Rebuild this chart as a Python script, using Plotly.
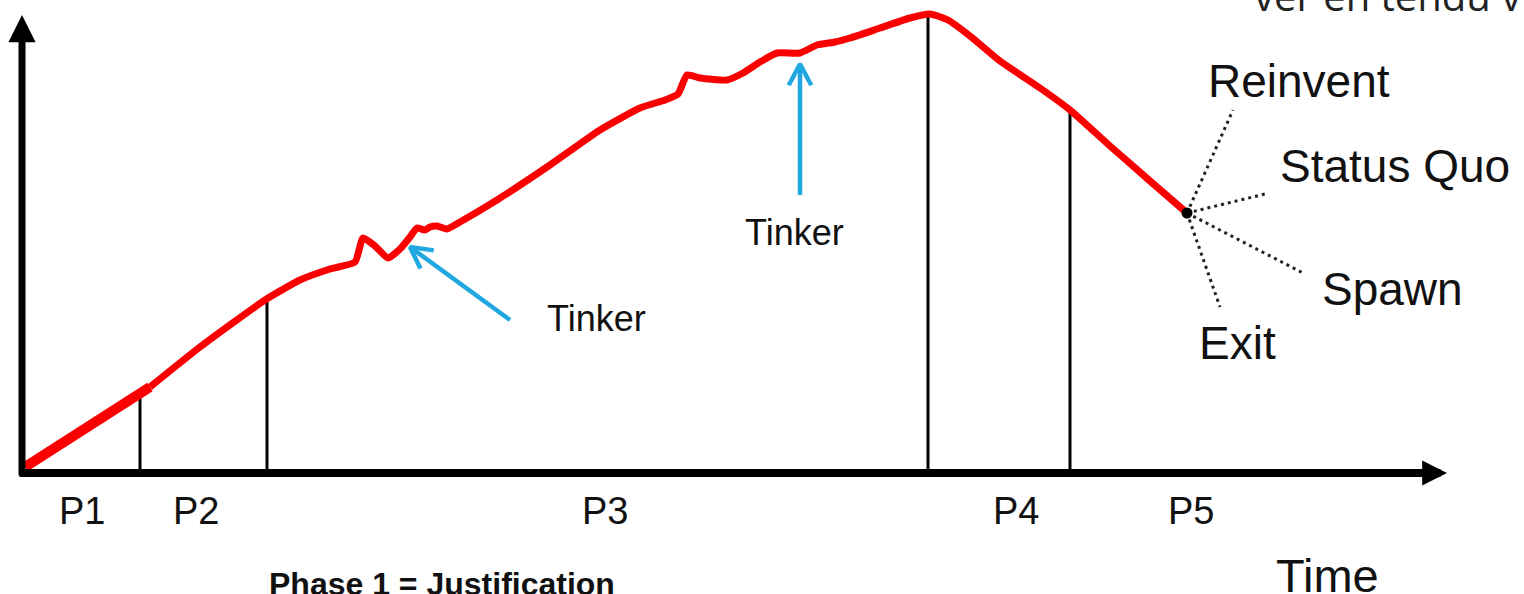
import math
import plotly.graph_objects as go

# ---- data (time units, performance units) ----
time = [3, 128, 178, 243, 278, 308, 333, 341, 353, 366, 378, 388, 395, 403, 408, 415, 425, 438,
        475, 528, 578, 618, 643, 656, 665, 678, 705, 721, 738, 755, 778, 795, 813, 828, 858,
        888, 908, 926, 948, 978, 1018, 1048, 1088, 1128, 1165]
value = [6, 86, 126, 173, 193, 204, 211, 235, 227, 215, 224, 236, 245, 243, 246, 247, 244, 251,
         273, 308, 343, 365, 373, 379, 398, 395, 393, 400, 411, 420, 420, 428, 431, 435, 445,
         455, 459, 453, 437, 412, 385, 363, 327, 292, 260]
thick_n = 2  # first segment drawn heavier

phase_times = [118, 245, 906, 1048]
phase_heights = [80, 173, 456, 363]
phase_labels = ["P1", "P2", "P3", "P4", "P5"]
phase_label_x = [60, 174, 583, 994, 1169]

tinker_tips = [(388, 226), (778, 409)]
tinker_tails = [(488, 153), (778, 278)]
tinker_label_pos = [(574, 155), (772, 241)]

outcome_labels = ["Reinvent", "Status Quo", "Spawn", "Exit"]
outcome_label_pos = [(1277, 392), (1373, 307), (1370, 184), (1215, 130)]
outcome_branch_end = [(1211, 363), (1243, 279), (1281, 200), (1198, 166)]

RED = "rgb(250,0,0)"
BLUE = "#22a8e0"
FONT = "Liberation Sans, Arial, sans-serif"

fig = go.Figure()

# branch dotted lines
for (bx, by) in outcome_branch_end:
    fig.add_trace(go.Scatter(x=[time[-1], bx], y=[value[-1], by], mode="lines",
                             line=dict(color="#222", width=3, dash="3px,4px"),
                             hoverinfo="skip", showlegend=False))

# phase boundary lines
for t, h in zip(phase_times, phase_heights):
    fig.add_trace(go.Scatter(x=[t, t], y=[0, h], mode="lines",
                             line=dict(color="black", width=3),
                             hoverinfo="skip", showlegend=False))

# curve
fig.add_trace(go.Scatter(x=time[thick_n - 1:], y=value[thick_n - 1:], mode="lines",
                         line=dict(color=RED, width=7, shape="spline", smoothing=0.5),
                         hoverinfo="skip", showlegend=False))
fig.add_trace(go.Scatter(x=time[:thick_n], y=value[:thick_n], mode="lines",
                         line=dict(color=RED, width=10),
                         hoverinfo="skip", showlegend=False))
# end point
fig.add_trace(go.Scatter(x=[time[-1]], y=[value[-1]], mode="markers",
                         marker=dict(color="black", size=11),
                         hoverinfo="skip", showlegend=False))

# tinker arrows: shaft + chevron head (derived from tip/tail)
ARM = 24
ANG = math.radians(28)
for (tx, ty), (sx, sy) in zip(tinker_tips, tinker_tails):
    dx, dy = sx - tx, sy - ty
    L = math.hypot(dx, dy)
    ux, uy = dx / L, dy / L
    def rot(a):
        return (ux * math.cos(a) - uy * math.sin(a), ux * math.sin(a) + uy * math.cos(a))
    r1, r2 = rot(ANG), rot(-ANG)
    fig.add_trace(go.Scatter(x=[sx, tx], y=[sy, ty], mode="lines",
                             line=dict(color=BLUE, width=4.5),
                             hoverinfo="skip", showlegend=False))
    fig.add_trace(go.Scatter(x=[tx + ARM * r1[0], tx, tx + ARM * r2[0]],
                             y=[ty + ARM * r1[1], ty, ty + ARM * r2[1]], mode="lines",
                             line=dict(color=BLUE, width=4.5),
                             hoverinfo="skip", showlegend=False))

ann = []
# axes arrows
ann.append(dict(x=0, y=458, ax=0, ay=-4, xref="x", yref="y", axref="x", ayref="y",
                showarrow=True, arrowhead=2, arrowwidth=7, arrowsize=0.78, arrowcolor="black", text=""))
ann.append(dict(x=1425, y=0, ax=-4, ay=0, xref="x", yref="y", axref="x", ayref="y",
                showarrow=True, arrowhead=2, arrowwidth=8, arrowsize=0.62, arrowcolor="black", text=""))

for (lx, ly) in tinker_label_pos:
    ann.append(dict(x=lx, y=ly, xref="x", yref="y", text="Tinker", showarrow=False,
                    font=dict(family=FONT, size=36, color="#111"), xanchor="center", yanchor="middle"))

for lab, lx in zip(phase_labels, phase_label_x):
    ann.append(dict(x=lx, y=-38, xref="x", yref="y", text=lab, showarrow=False,
                    font=dict(family=FONT, size=38, color="#111"), xanchor="center", yanchor="middle"))

for lab, (lx, ly) in zip(outcome_labels, outcome_label_pos):
    ann.append(dict(x=lx, y=ly, xref="x", yref="y", text=lab, showarrow=False,
                    font=dict(family=FONT, size=46, color="#111"), xanchor="center", yanchor="middle"))

ann.append(dict(x=1305, y=-102, xref="x", yref="y", text="Time", showarrow=False,
                font=dict(family=FONT, size=47, color="#111"), xanchor="center", yanchor="middle"))
ann.append(dict(x=420, y=-111, xref="x", yref="y", text="<b>Phase 1 = Justification</b>", showarrow=False,
                font=dict(family=FONT, size=32, color="#111"), xanchor="center", yanchor="middle"))
ann.append(dict(x=1230, y=461, xref="x", yref="y", text="ver en tendu v", showarrow=False,
                font=dict(family="Open Sans, sans-serif", size=40, color="#222"),
                xanchor="left", yanchor="middle", yshift=17))

fig.update_layout(
    width=1524, height=594,
    margin=dict(l=0, r=0, t=0, b=0),
    paper_bgcolor="white", plot_bgcolor="white",
    xaxis=dict(range=[-22, 1502], visible=False, fixedrange=True),
    yaxis=dict(range=[-121, 473], visible=False, fixedrange=True),
    annotations=ann,
    showlegend=False,
)

fig.write_html("out.html", config={"displayModeBar": False},
               post_script="document.body.style.margin='0';")
